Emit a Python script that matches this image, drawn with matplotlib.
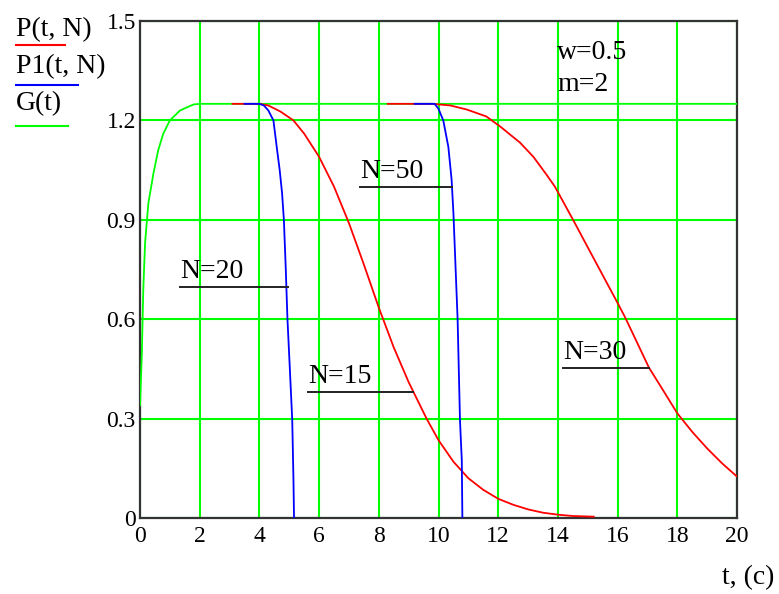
import numpy as np
import matplotlib.pyplot as plt

plt.rcParams['font.family'] = ['Liberation Serif', 'DejaVu Serif']

# G(t) - build-up curve
g_t = [0, 0.06, 0.11, 0.17, 0.28, 0.45, 0.61, 0.78, 1.0, 1.34, 1.79, 2.0, 20]
g_v = [0.34, 0.49, 0.69, 0.83, 0.95, 1.04, 1.11, 1.16, 1.2, 1.23, 1.248, 1.25, 1.25]

# P(t, N), N=15
p15_t = [3.1, 4.0, 4.3, 4.7, 5.14, 5.5, 6.0, 6.5, 7.0, 7.5, 8.0, 8.5, 9.0, 9.6,
         10.0, 10.5, 11.0, 11.5, 12.0, 12.5, 13.0, 13.5, 14.0, 14.5, 15.2]
p15_v = [1.25, 1.25, 1.245, 1.227, 1.2, 1.16, 1.09, 1.0, 0.89, 0.765, 0.635, 0.515,
         0.41, 0.30, 0.235, 0.17, 0.12, 0.085, 0.058, 0.04, 0.026, 0.016, 0.01,
         0.006, 0.004]

# P(t, N), N=30
p30_t = [8.3, 9.8, 10.4, 10.94, 11.6, 12.06, 12.73, 13.18, 13.62, 13.9, 14.52,
         15.0, 15.5, 15.97, 16.25, 17.05, 17.5, 18.0, 18.5, 19.0, 19.5, 20.0]
p30_v = [1.25, 1.25, 1.245, 1.233, 1.212, 1.182, 1.133, 1.09, 1.036, 1.0, 0.898,
         0.817, 0.733, 0.654, 0.606, 0.454, 0.389, 0.316, 0.26, 0.21, 0.165, 0.125]

# P1(t, N), N=20
p20_t = [3.5, 4.0, 4.15, 4.3, 4.47, 4.58, 4.68, 4.76, 4.82, 4.88, 4.94, 5.02, 5.1,
         5.14, 5.16]
p20_v = [1.25, 1.25, 1.245, 1.23, 1.2, 1.12, 1.05, 0.98, 0.9, 0.76, 0.6, 0.45, 0.296,
         0.12, 0.0]

# P1(t, N), N=50
p50_t = [9.2, 9.87, 10.0, 10.16, 10.33, 10.44, 10.5, 10.64, 10.72, 10.78, 10.8]
p50_v = [1.25, 1.25, 1.235, 1.2, 1.12, 1.02, 0.92, 0.6, 0.294, 0.175, 0.0]

x_ticks = np.arange(0, 21, 2)
y_ticks = [0, 0.3, 0.6, 0.9, 1.2, 1.5]
y_labels = ['0', '0.3', '0.6', '0.9', '1.2', '1.5']

fs_tick = 17
fs = 20
fig = plt.figure(figsize=(7.79, 5.94), dpi=100)
ax = fig.add_axes([140/779, 76/594, 597/779, 497/594])

ax.plot(g_t, g_v, color='#00ff00', lw=1.3, zorder=3)
ax.plot(p15_t, p15_v, color='#ff0000', lw=1.3, zorder=4)
ax.plot(p30_t, p30_v, color='#ff0000', lw=1.3, zorder=4)
ax.plot(p20_t, p20_v, color='#0000ff', lw=1.3, zorder=5)
ax.plot(p50_t, p50_v, color='#0000ff', lw=1.3, zorder=5)

ax.set_xlim(0, 20)
ax.set_ylim(0, 1.5)
ax.set_xticks(x_ticks)
ax.set_yticks(y_ticks)
ax.set_yticklabels(y_labels)
ax.grid(True, color='#00ff00', lw=1.5, zorder=1)
ax.set_axisbelow(True)
ax.tick_params(length=0, labelsize=fs_tick)
ax.tick_params(axis='x', pad=6)
ax.tick_params(axis='y', pad=3)
for s in ax.spines.values():
    s.set_color('#333333')
    s.set_linewidth(1.6)

# curve labels with underline leaders
labels = [('N=20', 1.34, 4.96, 0.697),
          ('N=50', 7.37, 10.46, 0.999),
          ('N=15', 5.63, 9.15, 0.380),
          ('N=30', 14.17, 17.05, 0.453)]
for txt, x0, x1, yl in labels:
    ax.text(x0, yl + 0.01, txt, fontsize=fs, va='bottom', ha='left', zorder=6)
    ax.plot([x0, x1], [yl, yl], color='#222222', lw=1.4, zorder=6)

ax.text(13.97, 1.404, 'w=0.5', fontsize=fs, va='center', ha='left')
ax.text(13.97, 1.307, 'm=2', fontsize=fs, va='center', ha='left')

# legend in Mathcad style, names over coloured lines
legend = [('P(t, N)', '#ff0000', 30, 45, 65),
          ('P1(t, N)', '#0000ff', 67, 85, 78),
          ('G(t)', '#00ff00', 104, 126, 68)]
for name, col, ty, ly, x1 in legend:
    fig.text(16/779, 1 - ty/594, name, fontsize=fs, va='center', ha='left')
    fig.add_artist(plt.Line2D([16/779, x1/779], [1 - ly/594, 1 - ly/594],
                              color=col, lw=1.5))

fig.text(748/779, 1 - 578/594, 't, (c)', fontsize=fs, va='center', ha='center')

fig.savefig('out.png', dpi=100)
